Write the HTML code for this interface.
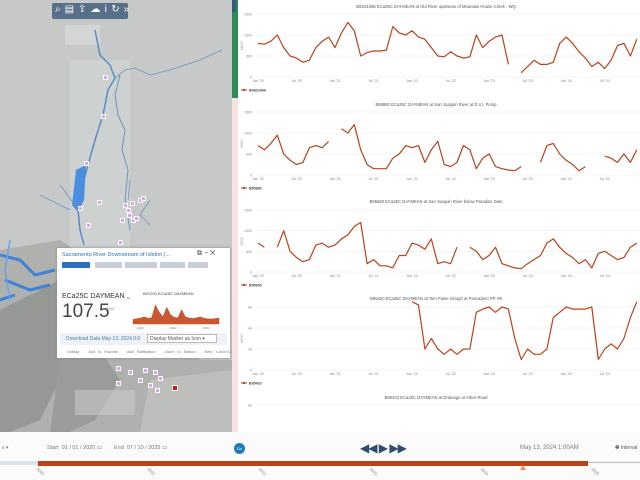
<!DOCTYPE html>
<html><head><meta charset="utf-8">
<style>
*{margin:0;padding:0;box-sizing:border-box}
body{width:640px;height:480px;overflow:hidden;position:relative;font-family:"Liberation Sans",sans-serif;background:#fff}
#map{position:absolute;left:0;top:0;width:232px;height:432px;background:#c6c9c8;overflow:hidden}
#panel{position:absolute;left:232px;top:0;width:408px;height:432px;background:#fff}
#bottom{position:absolute;left:0;top:432px;width:640px;height:48px;background:#fbfbfb}
.t{position:absolute;white-space:nowrap}
</style></head><body>
<div id="map">
<svg width="232" height="432" style="position:absolute;left:0;top:0">
<rect x="65" y="25" width="35" height="20" fill="#d3d6d5"/>
<rect x="70" y="60" width="60" height="190" fill="#cdd1d0"/>
<path d="M0 250 L60 240 L90 260 L140 300 L170 330 L200 360 L232 360 L232 432 L0 432Z" fill="#aeb1ae"/>
<path d="M20 300 L60 280 L90 300 L80 340 L60 380 L40 420 L10 432 L0 432 L0 310Z" fill="#8f928f" opacity="0.8"/>
<path d="M60 360 L100 350 L120 380 L95 420 L70 432 L50 432Z" fill="#999c98"/>
<path d="M150 380 L232 370 L232 432 L140 432Z" fill="#bcbfbc"/>
<path d="M95 30 L100 55 L110 65 L115 78 L108 90 L103 115 L95 140 L88 165 L80 195 L78 210 L80 230 L84 245" fill="none" stroke="#5a8cc4" stroke-width="1.5"/>
<path d="M76 170 L86 165 L84 200 L78 212 L72 205Z" fill="#4a8ee0"/>
<path d="M115 78 L125 70 L135 68 L150 75 L170 70 L200 60 L222 50" fill="none" stroke="#6b93c0" stroke-width="0.8"/>
<path d="M120 75 L115 95 L118 115 L125 130 L122 150 L128 170 L125 200 L130 230" fill="none" stroke="#6b93c0" stroke-width="1"/>
<path d="M60 185 L75 205 M40 195 L70 210 M130 180 L128 200 M150 200 L140 215 L150 225" fill="none" stroke="#6b93c0" stroke-width="0.8"/>
<path d="M0 255 L20 260 L35 275 L55 270 M5 280 L30 290 L50 285 M0 300 L15 295" fill="none" stroke="#3f82d8" stroke-width="3"/>
<path d="M10 240 L5 270 L10 300" fill="none" stroke="#6aa3e8" stroke-width="1.5"/>
<rect x="75" y="390" width="60" height="25" fill="#c7cac8" opacity="0.6"/>
</svg>
<div class="t" style="left:52px;top:3px;width:76px;height:16px;background:#57708a;border-radius:2px">
<span class="t" style="left:3px;top:1px;color:#fff;font-size:10px;letter-spacing:4px">⌕▤⇪☁ⅰ↻»</span></div>
<div id="markers"></div>
<div class="t" style="left:57px;top:248px;width:173px;height:110px;background:#fff;box-shadow:0 0 3px #888">
<span class="t" style="left:5px;top:4px;font-size:5.5px;color:#2a6fc0">Sacramento River Downstream of Isleton (...</span>
<span class="t" style="left:140px;top:2px;font-size:7px;color:#444">⧉ − ✕</span>
<div class="t" style="left:5px;top:14px;width:28px;height:6px;background:#2a6fc0;border-radius:1px"></div>
<div class="t" style="left:38px;top:14px;width:27px;height:6px;background:#c8cdd6"></div>
<div class="t" style="left:68px;top:14px;width:32px;height:6px;background:#c8cdd6"></div>
<div class="t" style="left:103px;top:14px;width:25px;height:6px;background:#c8cdd6"></div>
<div class="t" style="left:131px;top:14px;width:20px;height:6px;background:#c8cdd6"></div>
<span class="t" style="left:5px;top:45px;font-size:7px;color:#333">ECa25C DAYMEAN</span>
<span class="t" style="left:5px;top:53px;font-size:19px;color:#444">107.5</span>
<span class="t" style="left:48px;top:58px;font-size:4px;color:#777">MS/C</span>
<span class="t" style="left:86px;top:43px;font-size:4px;color:#444">B91200 ECa25C DAYMEAN</span>
<svg class="t" style="left:68px;top:48px" width="100" height="35">
<path id="mini" fill="#c2461b" stroke="#c2461b" stroke-width="0.5" opacity="0.9"/>
<text x="2" y="3" font-size="3" fill="#555">1k</text>
<text x="12" y="33" font-size="3" fill="#777">2020</text><text x="45" y="33" font-size="3" fill="#777">2022</text><text x="78" y="33" font-size="3" fill="#777">2024</text>
</svg>
<div class="t" style="left:3px;top:85px;width:167px;height:12px;background:#eef2f7"></div>
<span class="t" style="left:9px;top:88px;font-size:5px;color:#4a78b5">Download Data May 13, 2024 0:0</span>
<div class="t" style="left:90px;top:86px;width:70px;height:9px;background:#fff;border:1px solid #bbb;font-size:5px;color:#555;padding:1px 2px">Display Marker as Icon ▾</div>
<span class="t" style="left:10px;top:101px;font-size:3.8px;color:#777;word-spacing:2px">UnMap &nbsp; Add to Favorite &nbsp; Add Notification &nbsp; Zoom to Station &nbsp; New Y-Axis?☐</span>
</div>
</div>
<div id="panel">
<div class="t" style="left:0;top:0;width:6px;height:98px;background:#2f8a57"></div>
<div class="t" style="left:0;top:98px;width:6px;height:334px;background:#f8e2e2"></div>
<div class="t" style="left:0;top:0;width:4px;height:12px;background:#3b5a7a"></div>
<svg id="charts" width="408" height="432" style="position:absolute;left:0;top:0"></svg>
</div>
<div id="bottom">
<span class="t" style="left:2px;top:13px;font-size:5px;color:#777">s ▾</span>
<span class="t" style="left:47px;top:13px;font-size:5.5px;color:#777">Start &nbsp;01 / 01 / 2020 ▭</span>
<span class="t" style="left:114px;top:13px;font-size:5.5px;color:#777">End &nbsp;07 / 10 / 2025 ▭</span>
<div class="t" style="left:234px;top:11px;width:11px;height:11px;border-radius:50%;background:#1f7bb8;color:#fff;font-size:4px;text-align:center;line-height:11px">Go</div>
<span class="t" style="left:360px;top:9px;font-size:12px;color:#2f4c6b;letter-spacing:-1px">◀◀ ▶ ▶▶</span>
<span class="t" style="left:520px;top:13px;font-size:6px;color:#777">May 13, 2024 1:00AM</span>
<span class="t" style="left:615px;top:13px;font-size:5px;color:#555">❶ Interval</span>
<div class="t" style="left:0;top:29px;width:38px;height:4px;background:#dde3ee"></div>
<div class="t" style="left:38px;top:28.5px;width:550px;height:5px;background:#b9431a"></div>
<div class="t" style="left:588px;top:30px;width:52px;height:1px;background:#bbb"></div>
<div class="t" style="left:520px;top:33px;width:0;height:0;border-left:3px solid transparent;border-right:3px solid transparent;border-bottom:5px solid #e98b6d"></div>
<div id="ticks"></div>
</div>
<script>
const months = Array.from({length:60},(_, i)=>i);
const xLabels = ["Jan '20","Jul '20","Jan '21","Jul '21","Jan '22","Jul '22","Jan '23","Jul '23","Jan '24","Jul '24"];
const s1 = [800,780,850,1000,700,500,450,350,400,700,850,950,700,1050,1300,1100,500,580,620,620,640,1200,1050,1000,1100,950,900,700,500,480,600,500,450,480,1000,700,850,950,1000,300,null,100,250,400,300,300,350,800,950,800,600,450,250,350,200,400,750,800,500,900];
const s2 = [700,600,750,950,500,350,250,300,650,700,650,800,null,1100,1000,1200,600,250,150,150,150,400,500,700,650,700,300,600,800,250,200,300,700,600,150,400,500,200,150,120,100,200,null,null,300,700,750,500,350,250,100,200,null,null,450,400,300,500,300,600];
const s3 = [700,600,null,600,1000,500,350,250,300,650,700,600,650,800,900,1100,1200,200,300,150,150,100,400,400,700,650,550,800,200,250,200,600,null,600,500,300,400,600,200,150,100,80,200,300,400,700,800,600,450,350,200,300,100,450,500,400,300,350,600,700];
const s4 = [null,null,null,null,null,null,null,null,null,null,null,null,null,null,null,null,null,null,null,null,null,null,null,null,6500,6200,2000,3000,2000,1500,2000,1500,2000,2000,5500,5800,6000,5500,6000,5800,3000,1000,2000,1500,1500,2000,5000,5500,6000,5800,5800,5800,6000,1000,2000,2500,2000,3000,5000,6500];
const s5 = [null,null,null,null,null,null,null,null,null,null,null,null,null,null,null,null,null,null,null,null,null,null,null,null,null,null,null,null,null,null,null,null,null,null,null,null,null,null,null,200,null,null,null,null,null,null,null,null,null,null,null,null,null,null,null,null,null,null,null,null];
const ticksA = ["0","500","1000","1500"];
const ticksB = ["0","2k","4k","6k"];
const titles = ["B9S31066 ECa25C DAYMEAN at Old River upstream of Mountain House Creek - WQ","B95880 ECa25C DAYMEAN at San Joaquin River at D.V.I. Pump","B95650 ECa25C DAYMEAN at San Joaquin River below Paradise Dam","B95420 ECa25C DAYMEAN at Tom Paine Slough at Pescadero PP. #8","B95423 ECa25C DAYMEAN at Drainage at Arbor Road"];
const legends = ["B9S31066","B95880","B95650","B95420","B95423"];
const miniVals = [200,220,250,300,240,260,800,500,300,700,400,280,260,600,300,250,230,260,300,240,220,210,230,250];
const timelineLabels = ["2020","2021","2022","2023","2024","2025"];

const NS="http://www.w3.org/2000/svg";
const svg=document.getElementById('charts');
function el(tag,attrs,parent){const e=document.createElementNS(NS,tag);for(const k in attrs)e.setAttribute(k,attrs[k]);(parent||svg).appendChild(e);return e;}
const x0=26, mw=6.42;
function xs(m){return x0+m*mw;}
const cfg=[
 {data:s1,top:14,bot:77,max:1500,ticks:ticksA,ty:6},
 {data:s2,top:112,bot:175,max:1500,ticks:ticksA,ty:104},
 {data:s3,top:210,bot:272,max:1500,ticks:ticksA,ty:201},
 {data:s4,top:307,bot:370,max:6000,ticks:ticksB,ty:298},
 {data:s5,top:405,bot:468,max:6000,ticks:["","","","6k"],ty:397}
];
cfg.forEach((c,ci)=>{
  const g=el('g',{});
  
  
  const ys=v=>c.bot-(v/c.max)*(c.bot-c.top);
  const t=el('text',{x:204,y:c.ty+2,'font-size':4.2,fill:'#555','text-anchor':'middle'},g);t.textContent=titles[ci];
  
  
  c.ticks.forEach((lab,i)=>{
    if(lab==="")return;
    const v=i*c.max/(c.ticks.length-1);
    const y=ys(v);
    el('line',{x1:24,x2:408,y1:y,y2:y,stroke:'#ececec','stroke-width':0.6},g);
    const tt=el('text',{x:20,y:y+1.5,'font-size':3.6,fill:'#888','text-anchor':'end'},g);tt.textContent=lab;
    
    
  });
  if(ci<4){
    xLabels.forEach((lab,i)=>{
      const xx=el('text',{x:xs(i*6),y:c.bot+5,'font-size':3.6,fill:'#888','text-anchor':'middle'},g);xx.textContent=lab;
      
      
    });
    const yl=el('text',{x:0,y:0,'font-size':3.5,fill:'#999',transform:`translate(11,${(c.top+c.bot)/2}) rotate(-90)`,'text-anchor':'middle'},g);yl.textContent='MS/C';
    
    
    el('line',{x1:9,x2:15,y1:c.bot+13,y2:c.bot+13,stroke:'#b9431a','stroke-width':1},g);
    el('circle',{cx:12,cy:c.bot+13,r:1.2,fill:'#b9431a'},g);
    const lg=el('text',{x:17,y:c.bot+14.3,'font-size':3.6,fill:'#444','font-weight':'bold'},g);lg.textContent=legends[ci];
    
    
  }
  let d='',pen=false;
  c.data.forEach((v,i)=>{
    if(v===null){pen=false;return;}
    d+=(pen?'L':'M')+xs(months[i]).toFixed(1)+' '+ys(v).toFixed(1)+' ';pen=true;
  });
  if(ci===4){
    c.data.forEach((v,i)=>{if(v!==null){const r=el('rect',{x:xs(months[i]),y:ys(v+500),width:2,height:5,fill:'#b9431a'},g);
      
      }});
  } else {
    const p=el('path',{d:d,fill:'none',stroke:'#b9431a','stroke-width':1.2,'stroke-linejoin':'round'},g);
    
    
  }
});
(function(){
  const w=86,x=8,b=28,h=24,n=miniVals.length;
  let d=`M${x} ${b}`;
  miniVals.forEach((v,i)=>{d+=` L${(x+i*w/(n-1)).toFixed(1)} ${(b-v/1000*h).toFixed(1)}`;});
  d+=` L${x+w} ${b}Z`;
  document.getElementById('mini').setAttribute('d',d);
})();
const mk=[[105,77],[103,116],[86,163],[99,202],[80,208],[88,225],[125,205],[128,210],[132,203],[140,200],[143,198],[129,215],[133,220],[122,220],[136,218],[120,242],[118,368],[130,372],[145,370],[155,372],[160,378],[140,380],[118,383],[150,385],[157,390]];
const mc=document.getElementById('markers');
mk.forEach(p=>{const d=document.createElement('div');d.className='t';
 d.style.cssText=`left:${p[0]-2.5}px;top:${p[1]-2.5}px;width:5px;height:5px;background:#d9a3e8;border:1px solid #fff`;
 
 
 mc.appendChild(d);});
const red=document.createElement('div');red.className='t';
red.style.cssText='left:172px;top:385px;width:6px;height:6px;background:#e01010;border:1px solid #fff';


mc.appendChild(red);
const tk=document.getElementById('ticks');
timelineLabels.forEach((l,i)=>{const s=document.createElement('span');s.className='t';
 s.style.cssText=`left:${36+i*111}px;top:37px;font-size:4px;color:#777;transform:rotate(45deg)`;
 s.textContent=l;
 
 
 tk.appendChild(s);});
</script>
</body></html>
